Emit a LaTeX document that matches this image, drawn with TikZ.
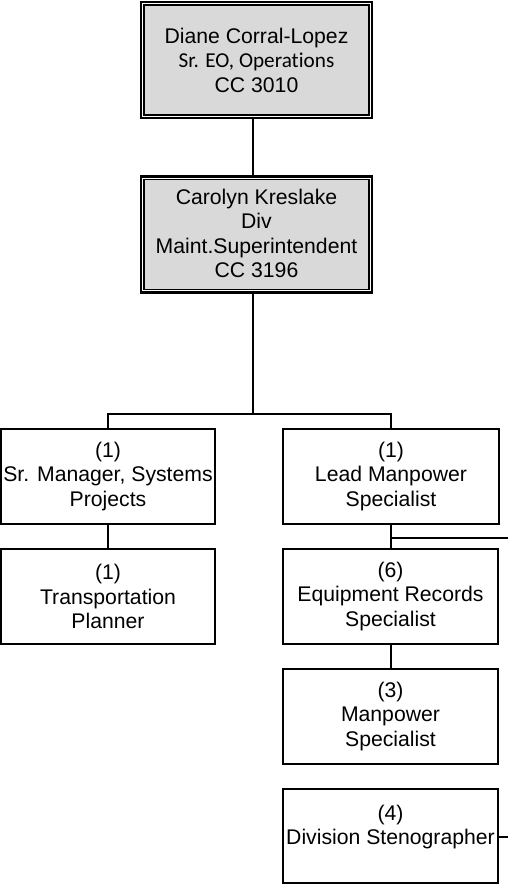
\documentclass[tikz,border=0pt]{standalone}
\usepackage{fontspec}
\setmainfont{Liberation Sans}
\newfontfamily\carl[Ligatures={NoCommon}]{Carlito}
\definecolor{boxgray}{HTML}{D9D9D9}
\begin{document}
\begin{tikzpicture}[x=1pt,y=-1pt,
  txt/.style={align=center, inner sep=0pt, font=\fontsize{21.2}{24.5}\selectfont},
  posbox/.style={draw, line width=1.8pt, align=center, inner sep=0pt,
    font=\fontsize{21.2}{24.5}\selectfont, minimum width=215pt, minimum height=95pt},
  outerbox/.style={draw, line width=2.2pt, fill=white, inner sep=0pt, minimum width=231pt, minimum height=116pt},
  innerline/.style={draw, line width=1.4pt, fill=boxgray},
  conn/.style={line width=1.8pt}]
\useasboundingbox (0,0) rectangle (508,885);

% top double boxes
\node[outerbox] (d) at (256.5,60) {};
\draw[innerline] ([shift={(4,4)}]d.north west) rectangle ([shift={(-4,-4)}]d.south east);
\node[txt] (dt) at (d.center) {Diane Corral-Lopez\\{\carl Sr. EO, Operations}\\CC 3010};

\node[outerbox] (c) at (256.5,234.5) {};
\draw[innerline] ([shift={(4,4)}]c.north west) rectangle ([shift={(-4,-4)}]c.south east);
\node[txt] (ct) at ([yshift=1pt]c.center) {Carolyn Kreslake\\Div\\Maint.Superintendent\\CC 3196};

% position boxes
\node[posbox, minimum width=214pt] (sm) at (108,476.5) {(1)\\Sr. Manager, Systems\\Projects};
\node[posbox, minimum width=214pt] (tp) at (108,596.5) {(1)\\Transportation\\Planner};
\node[posbox, minimum width=216pt] (lm) at (391,476.5) {(1)\\Lead Manpower\\Specialist};
\node[posbox] (er) at (390.5,596.5) {(6)\\Equipment Records\\Specialist};
\node[posbox] (mp) at (390.5,716.5) {(3)\\Manpower\\Specialist};
\node[posbox, minimum height=94pt] (ds) at (390.5,836) {};
\node[txt] (dst) at ([yshift=9pt]ds.center) {(4)\\Division Stenographer};

% connectors
\coordinate (bus) at (253,414);
\coordinate (edgeA) at (508,538);
\coordinate (edgeB) at (508,837);
\draw[conn] ([xshift=-3.5pt]d.south) -- ([xshift=-3.5pt]c.north);
\draw[conn] ([xshift=-3.5pt]c.south) -- (bus);
\draw[conn] (sm.north) |- (bus) -| (lm.north);
\draw[conn] (sm.south) -- (tp.north);
\draw[conn] (lm.south) -- (lm.south |- er.north);
\draw[conn] (lm.south |- edgeA) -- (edgeA);
\draw[conn] (lm.south |- er.south) -- (lm.south |- mp.north);
\draw[conn] (ds.east |- edgeB) -- (edgeB);
\end{tikzpicture}
\end{document}
